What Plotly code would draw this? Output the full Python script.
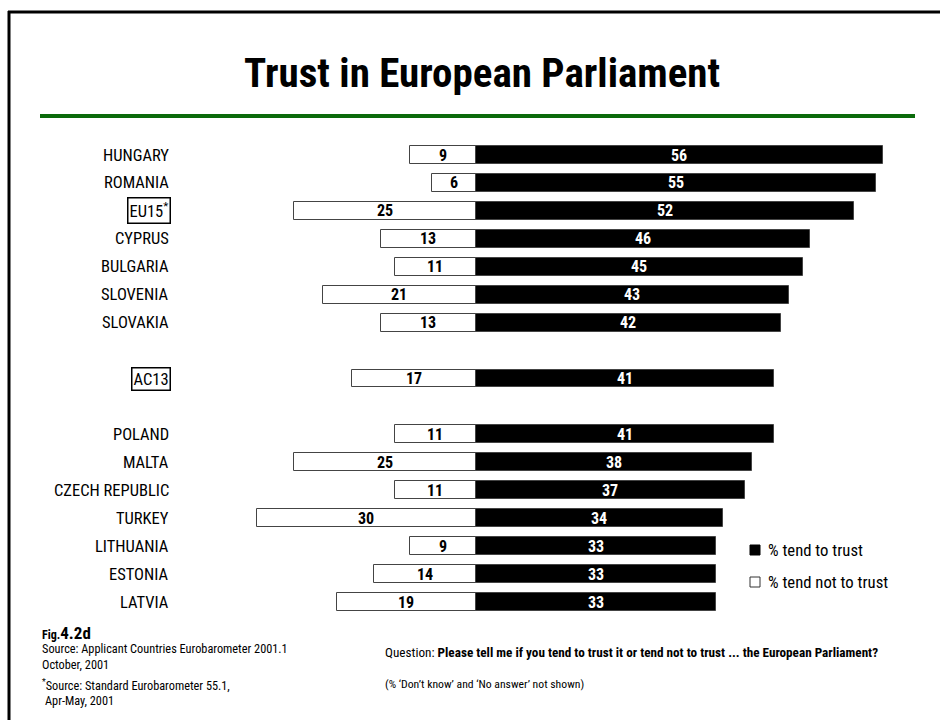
import plotly.graph_objects as go

# Survey results (percent)
countries = ["HUNGARY", "ROMANIA", "EU15*", "CYPRUS", "BULGARIA", "SLOVENIA", "SLOVAKIA",
             "AC13",
             "POLAND", "MALTA", "CZECH REPUBLIC", "TURKEY", "LITHUANIA", "ESTONIA", "LATVIA"]
trust = [56, 55, 52, 46, 45, 43, 42, 41, 41, 38, 37, 34, 33, 33, 33]
not_trust = [9, 6, 25, 13, 11, 21, 13, 17, 11, 25, 11, 30, 9, 14, 19]
group_sizes = [7, 1, 7]          # rows per block, blocks separated by a blank row
boxed = {"EU15*", "AC13"}

W, H = 948, 720
FONT = "Liberation Sans Narrow, Arial Narrow, Roboto Condensed, sans-serif"

# row slots with one empty slot between blocks
slots = []
s = 0
for n in group_sizes:
    for _ in range(n):
        slots.append(s)
        s += 1
    s += 1

# pixel geometry of the plotting frame
x_zero_px, px_per_unit = 475.5, 7.28
y_first_px, row_px = 155.0, 27.94
x_range = [-x_zero_px / px_per_unit, (W - x_zero_px) / px_per_unit]
y_range = [(H - y_first_px) / row_px, -y_first_px / row_px]


def px(x):
    return x / W


def py(y):
    return 1 - y / H


fig = go.Figure()
fig.add_trace(go.Bar(
    y=slots, x=[-v for v in not_trust], orientation="h", base=0,
    marker=dict(color="white", line=dict(color="#444444", width=1)),
    width=0.64, name="% tend not to trust", showlegend=False, hoverinfo="skip",
))
fig.add_trace(go.Bar(
    y=slots, x=trust, orientation="h", base=0,
    marker=dict(color="black", line=dict(color="#444444", width=1)),
    width=0.64, name="% tend to trust", showlegend=False, hoverinfo="skip",
))

annotations = []
# value labels centred in each bar
for yv, t, n in zip(slots, trust, not_trust):
    annotations.append(dict(x=t / 2, y=yv, xref="x", yref="y", text=f"<b>{t}</b>",
                            showarrow=False, xanchor="center", yanchor="middle",
                            font=dict(family=FONT, size=16, color="white")))
    annotations.append(dict(x=-n / 2, y=yv, xref="x", yref="y", text=f"<b>{n}</b>",
                            showarrow=False, xanchor="center", yanchor="middle",
                            font=dict(family=FONT, size=16, color="black")))

# row labels
for name, yv in zip(countries, slots):
    label = "EU15<sup>*</sup>" if name == "EU15*" else name
    ann = dict(x=px(171), xref="paper", y=yv, yref="y", text=label, showarrow=False,
               xanchor="right", yanchor="middle",
               font=dict(family=FONT, size=16.5, color="black"))
    if name in boxed:
        ann.update(bordercolor="black", borderwidth=1.5, borderpad=1)
    annotations.append(ann)

# title
annotations.append(dict(x=px(482), y=py(73), xref="paper", yref="paper",
                        text="<b>Trust in European Parliament</b>", showarrow=False,
                        xanchor="center", yanchor="middle",
                        font=dict(family=FONT, size=41, color="black")))

# legend
annotations += [
    dict(x=px(766), y=py(550), xref="paper", yref="paper", text="% tend to trust",
         showarrow=False, xanchor="left", yanchor="middle",
         font=dict(family=FONT, size=16.7, color="black")),
    dict(x=px(766), y=py(582), xref="paper", yref="paper", text="% tend not to trust",
         showarrow=False, xanchor="left", yanchor="middle",
         font=dict(family=FONT, size=16.7, color="black")),
]

# footnotes
foot = [
    (40, 633, "<b>Fig.<span style='font-size:17px'>4.2d</span></b>", 12),
    (40, 649, "Source: Applicant Countries Eurobarometer 2001.1", 12.3),
    (40, 665, "October, 2001", 12.3),
    (40, 685, "<sup>*</sup>Source: Standard Eurobarometer 55.1,", 12.3),
    (43, 701, "Apr-May, 2001", 12.3),
    (383, 652, "Question: <b>Please tell me if you tend to trust it or tend not to trust ... "
               "the European Parliament?</b>", 13.2),
    (383, 684, "(% ‘Don’t know’ and ‘No answer’ not shown)", 11.7),
]
for x, y, t, size in foot:
    annotations.append(dict(x=px(x), y=py(y), xref="paper", yref="paper", text=t,
                            showarrow=False, xanchor="left", yanchor="middle",
                            font=dict(family=FONT, size=size, color="black")))

shapes = [
    # green rule under the title
    dict(type="line", xref="paper", yref="paper", x0=px(40), x1=px(915), y0=py(116), y1=py(116),
         line=dict(color="#0b6b0b", width=4)),
    # page frame
    dict(type="line", xref="paper", yref="paper", x0=px(9), x1=px(9), y0=py(11), y1=py(720),
         line=dict(color="black", width=3)),
    dict(type="line", xref="paper", yref="paper", x0=px(8), x1=px(940), y0=py(12), y1=py(12),
         line=dict(color="black", width=3)),
    # legend swatches
    dict(type="rect", xref="paper", yref="paper", x0=px(750), x1=px(760), y0=py(545), y1=py(555),
         fillcolor="black", line=dict(color="black", width=1)),
    dict(type="rect", xref="paper", yref="paper", x0=px(750), x1=px(760), y0=py(577), y1=py(587),
         fillcolor="white", line=dict(color="#333333", width=1)),
]

fig.update_layout(
    width=W, height=H, margin=dict(l=0, r=0, t=0, b=0),
    paper_bgcolor="white", plot_bgcolor="white",
    barmode="overlay", bargap=0,
    xaxis=dict(range=x_range, visible=False, fixedrange=True),
    yaxis=dict(range=y_range, visible=False, fixedrange=True),
    annotations=annotations, shapes=shapes,
    font=dict(family=FONT),
)

fig.write_html("out.html")
